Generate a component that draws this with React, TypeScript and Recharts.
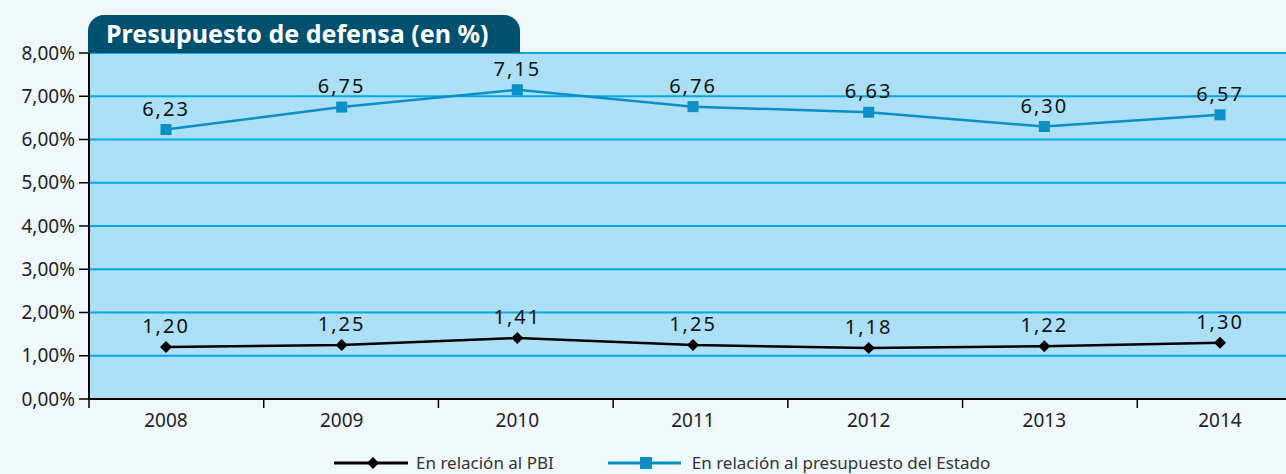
import React from 'react';
import { LineChart, Line, XAxis, YAxis, CartesianGrid, LabelList } from 'recharts';

const years = ['2008', '2009', '2010', '2011', '2012', '2013', '2014'];
const pbi = [1.2, 1.25, 1.41, 1.25, 1.18, 1.22, 1.3];
const estado = [6.23, 6.75, 7.15, 6.76, 6.63, 6.3, 6.57];
const yTicks = [0, 1, 2, 3, 4, 5, 6, 7, 8];

const data = years.map((year, i) => ({ year, pbi: pbi[i], estado: estado[i] }));

const FONT = '"Noto Sans", "Open Sans", sans-serif';
const BLUE = '#0a8fc6';
const GRID = '#00a8e4';
const PLOT_BG = '#abe0f8';

const CHART_W = 1320;
const PLOT_LEFT = 89;
const PLOT_RIGHT = 1312;
const BAND = (PLOT_RIGHT - PLOT_LEFT) / years.length;

const fmt = (v: number) => v.toFixed(2).replace('.', ',');

function YearTick(props: any) {
  const { x, y, payload, index } = props;
  const left = PLOT_LEFT + index * BAND;
  return (
    <g>
      <line x1={left} y1={y - 8} x2={left} y2={y + 1} stroke="#000" strokeWidth={1.5} />
      <text x={x} y={y + 20} textAnchor="middle" fontSize={19} fill="#222" fontFamily={FONT}>
        {payload.value}
      </text>
    </g>
  );
}

function Diamond(props: any) {
  const { cx, cy } = props;
  if (cx == null || cy == null) return null;
  return <path d={`M${cx},${cy - 6}L${cx + 6},${cy}L${cx},${cy + 6}L${cx - 6},${cy}Z`} fill="#000" />;
}

function Square(props: any) {
  const { cx, cy } = props;
  if (cx == null || cy == null) return null;
  return <rect x={cx - 5.5} y={cy - 5.5} width={11} height={11} fill={BLUE} />;
}

const labelStyle = { fontSize: 20, fill: '#111', fontFamily: FONT, letterSpacing: 2 };

export default function App() {
  return (
    <div
      style={{
        position: 'absolute',
        left: 0,
        top: 0,
        width: 1286,
        height: 474,
        overflow: 'hidden',
        background: '#eef8fd',
        fontFamily: FONT,
      }}
    >
      <LineChart
        width={CHART_W}
        height={474}
        data={data}
        margin={{ top: 53, right: CHART_W - PLOT_RIGHT, bottom: 45, left: 8 }}
      >
        <CartesianGrid vertical={false} stroke={GRID} strokeWidth={2} fill={PLOT_BG} />
        <XAxis
          dataKey="year"
          axisLine={{ stroke: '#000', strokeWidth: 2 }}
          tickLine={false}
          tick={<YearTick />}
          height={30}
          interval={0}
          padding={{ left: 77, right: 92 }}
        />
        <YAxis
          domain={[0, 8]}
          ticks={yTicks}
          width={81}
          interval={0}
          tickFormatter={(v: number) => fmt(v) + '%'}
          axisLine={{ stroke: '#000', strokeWidth: 2 }}
          tickLine={{ stroke: '#000', strokeWidth: 1.5 }}
          tickSize={10}
          tickMargin={4}
          tick={{ fontSize: 19, fill: '#222', fontFamily: FONT }}
        />
        <Line
          dataKey="estado"
          stroke={BLUE}
          strokeWidth={2.5}
          dot={<Square />}
          isAnimationActive={false}
        >
          <LabelList
            dataKey="estado"
            position="top"
            offset={14}
            formatter={(v: any) => fmt(Number(v))}
            style={labelStyle}
          />
        </Line>
        <Line
          dataKey="pbi"
          stroke="#000"
          strokeWidth={2.5}
          dot={<Diamond />}
          isAnimationActive={false}
        >
          <LabelList
            dataKey="pbi"
            position="top"
            offset={14}
            formatter={(v: any) => fmt(Number(v))}
            style={labelStyle}
          />
        </Line>
      </LineChart>

      <div
        style={{
          position: 'absolute',
          left: 88,
          top: 15,
          width: 432,
          height: 38,
          background: '#00506f',
          borderRadius: '16px 16px 0 0',
          color: '#fff',
          fontWeight: 700,
          fontSize: 25,
          lineHeight: '36px',
          paddingLeft: 18,
          boxSizing: 'border-box',
          whiteSpace: 'nowrap',
        }}
      >
        Presupuesto de defensa (en %)
      </div>

      <div
        style={{
          position: 'absolute',
          left: 334,
          top: 453,
          height: 20,
          display: 'flex',
          alignItems: 'center',
          fontSize: 17,
          lineHeight: '20px',
          color: '#333',
          whiteSpace: 'nowrap',
        }}
      >
        <svg width={74} height={16} style={{ marginRight: 8 }}>
          <line x1={0} y1={8} x2={74} y2={8} stroke="#000" strokeWidth={3} />
          <path d="M39,2L45,8L39,14L33,8Z" fill="#000" />
        </svg>
        <span>En relación al PBI</span>
        <svg width={73} height={16} style={{ marginLeft: 54, marginRight: 11 }}>
          <line x1={0} y1={8} x2={73} y2={8} stroke={BLUE} strokeWidth={3} />
          <rect x={32} y={2} width={12} height={12} fill={BLUE} />
        </svg>
        <span>En relación al presupuesto del Estado</span>
      </div>
    </div>
  );
}
